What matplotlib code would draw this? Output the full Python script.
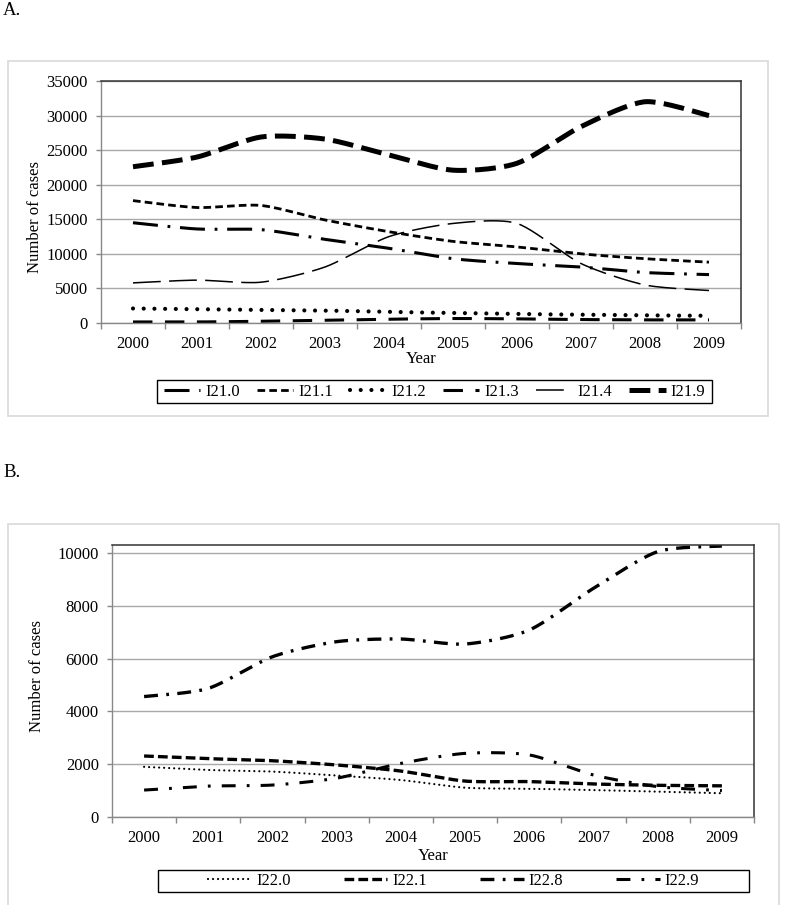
import numpy as np
import matplotlib
matplotlib.use("Agg")
import matplotlib.pyplot as plt
from matplotlib.patches import Rectangle

plt.rcParams['font.family'] = ['Liberation Serif', 'DejaVu Serif']
plt.rcParams['lines.scale_dashes'] = False

years = ['2000', '2001', '2002', '2003', '2004', '2005', '2006', '2007', '2008', '2009']

# Panel A
a_labels = ['I21.0', 'I21.1', 'I21.2', 'I21.3', 'I21.4', 'I21.9']
i21_0 = [14500, 13600, 13500, 12100, 10800, 9300, 8600, 8100, 7300, 7000]
i21_1 = [17700, 16700, 17000, 14900, 13200, 11800, 11000, 10000, 9300, 8800]
i21_2 = [2100, 2000, 1900, 1800, 1600, 1450, 1300, 1200, 1100, 1050]
i21_3 = [150, 150, 250, 400, 550, 650, 600, 500, 450, 450]
i21_4 = [5800, 6200, 5900, 8100, 12500, 14400, 14400, 8600, 5500, 4700]
i21_9 = [22600, 24000, 26900, 26600, 24300, 22100, 23100, 28400, 32000, 30000]

# Panel B
b_labels = ['I22.0', 'I22.1', 'I22.8', 'I22.9']
i22_0 = [1900, 1780, 1720, 1570, 1400, 1110, 1070, 1020, 960, 900]
i22_1 = [2310, 2210, 2130, 1970, 1740, 1360, 1340, 1250, 1200, 1180]
i22_8 = [4560, 4870, 6070, 6640, 6740, 6550, 7080, 8660, 10050, 10260]
i22_9 = [1020, 1170, 1210, 1470, 2030, 2410, 2350, 1590, 1150, 1000]


def smooth(y, n=24, k=8.0):
    """Bezier smoothing through the points (similar to Excel smoothed lines)."""
    x = np.arange(len(y), dtype=float)
    y = np.asarray(y, dtype=float)
    P = np.column_stack([x, y])
    out = []
    for i in range(len(P) - 1):
        p0 = P[i - 1] if i > 0 else P[i]
        p1 = P[i]
        p2 = P[i + 1]
        p3 = P[i + 2] if i + 2 < len(P) else P[i + 1]
        c1 = p1 + (p2 - p0) / k
        c2 = p2 - (p3 - p1) / k
        t = np.linspace(0, 1, n, endpoint=(i == len(P) - 2))[:, None]
        seg = ((1 - t) ** 3) * p1 + 3 * ((1 - t) ** 2) * t * c1 + 3 * (1 - t) * t ** 2 * c2 + t ** 3 * p2
        out.append(seg)
    s = np.vstack(out)
    return s[:, 0], s[:, 1]


W, H = 785, 905
fig = plt.figure(figsize=(W / 100, H / 100), dpi=100)

def fx(px):
    return px / W

def fy(py):
    return 1 - py / H

# Outer panel boxes
fig.patches.append(Rectangle((fx(8), fy(416)), fx(768) - fx(8), fy(61) - fy(416),
                             transform=fig.transFigure, fill=False, ec='#d9d9d9', lw=1.2))
fig.patches.append(Rectangle((fx(8), fy(910)), fx(779) - fx(8), fy(524) - fy(910),
                             transform=fig.transFigure, fill=False, ec='#d9d9d9', lw=1.2))

fig.text(fx(3), fy(2), 'A.', fontsize=13.5, va='top', ha='left')
fig.text(fx(3), fy(464), 'B.', fontsize=13.5, va='top', ha='left')

FS = 12


def style_axes(ax, ymax, yticks):
    x = np.arange(len(years))
    ax.set_xlim(-0.5, len(years) - 0.5)
    ax.set_ylim(0, ymax)
    ax.set_yticks(yticks)
    ax.set_xticks(x)
    ax.set_xticklabels(years, fontsize=FS)
    ax.set_xticks(np.arange(len(years) + 1) - 0.5, minor=True)
    ax.tick_params(axis='x', which='major', length=0, pad=9)
    ax.tick_params(axis='x', which='minor', length=4, color='#888888', width=1, direction='out')
    ax.tick_params(axis='y', length=3.5, color='#888888', width=1, direction='out', labelsize=FS, pad=6)
    ax.grid(axis='y', color='#a8a8a8', lw=1)
    ax.set_axisbelow(True)
    for s in ['left', 'bottom']:
        ax.spines[s].set_color('#888888')
        ax.spines[s].set_linewidth(1)
    for s in ['top', 'right']:
        ax.spines[s].set_color('#333333')
        ax.spines[s].set_linewidth(1.1)
    ax.set_xlabel('Year', fontsize=FS, labelpad=0)
    ax.set_ylabel('Number of cases', fontsize=FS)


# ---------- Panel A ----------
axA = fig.add_axes([fx(101), fy(323), fx(741) - fx(101), fy(81) - fy(323)])
style_axes(axA, 35000, np.arange(0, 35001, 5000))
axA.yaxis.set_label_coords(-0.09, 0.44)
axA.xaxis.set_label_coords(0.5, -0.115)

a_series = [i21_0, i21_1, i21_2, i21_3, i21_4, i21_9]
a_styles = [
    dict(lw=2.2, dashes=(18, 7, 2, 7)),
    dict(lw=2.0, dashes=(5.5, 3)),
    dict(lw=3.0, dashes=(0.01, 7.7), dash_capstyle='round'),
    dict(lw=2.2, dashes=(14, 9)),
    dict(lw=1.1, dashes=(20, 6)),
    dict(lw=3.6, dashes=(15, 6)),
]
a_handles = []
for lab, ys, st in zip(a_labels, a_series, a_styles):
    sx, sy = smooth(ys)
    ln, = axA.plot(sx, sy, color='black', label=lab, **st)
    a_handles.append(ln)

# legend A
fig.patches.append(Rectangle((fx(157), fy(403)), fx(712) - fx(157), fy(380) - fy(403),
                             transform=fig.transFigure, fill=False, ec='black', lw=1))
fig.legend(handles=a_handles, labels=a_labels, loc='center',
           bbox_to_anchor=((fx(157) + fx(712)) / 2, (fy(403) + fy(380)) / 2),
           ncol=6, frameon=False, fontsize=FS, handlelength=2.2, handletextpad=0.3,
           columnspacing=1.0, borderpad=0, borderaxespad=0)

# ---------- Panel B ----------
axB = fig.add_axes([fx(112), fy(817), fx(754) - fx(112), fy(545) - fy(817)])
style_axes(axB, 10300, np.arange(0, 10001, 2000))
axB.yaxis.set_label_coords(-0.104, 0.52)
axB.xaxis.set_label_coords(0.5, -0.115)

b_series = [i22_0, i22_1, i22_8, i22_9]
b_styles = [
    dict(lw=1.6, dashes=(0.01, 3.6), dash_capstyle='round'),
    dict(lw=2.4, dashes=(7, 3)),
    dict(lw=2.4, dashes=(10, 6, 2, 6)),
    dict(lw=2.2, dashes=(10, 8, 2, 8)),
]
b_handles = []
for lab, ys, st in zip(b_labels, b_series, b_styles):
    sx, sy = smooth(ys)
    ln, = axB.plot(sx, sy, color='black', label=lab, **st)
    b_handles.append(ln)

fig.patches.append(Rectangle((fx(158), fy(892)), fx(749) - fx(158), fy(870) - fy(892),
                             transform=fig.transFigure, fill=False, ec='black', lw=1))
fig.legend(handles=b_handles, labels=b_labels, loc='center',
           bbox_to_anchor=((fx(158) + fx(749)) / 2, (fy(892) + fy(870)) / 2),
           ncol=4, frameon=False, fontsize=FS, handlelength=2.6, handletextpad=0.3,
           columnspacing=3.2, borderpad=0, borderaxespad=0)

fig.savefig('out.png', dpi=100)
